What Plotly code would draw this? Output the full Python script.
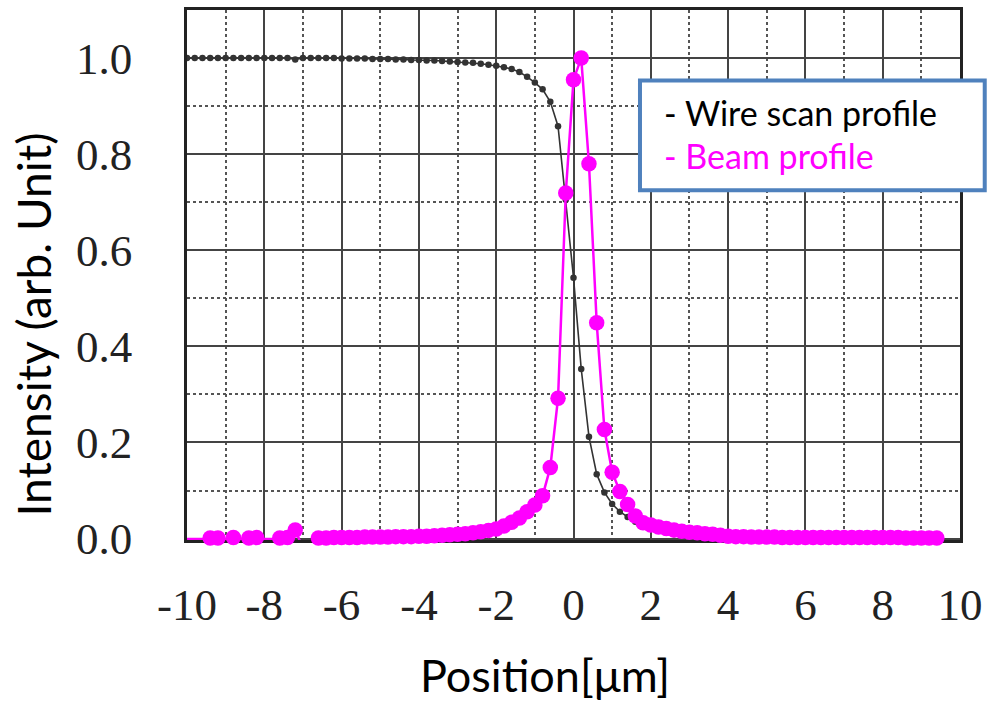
import plotly.graph_objects as go

# Scan positions (µm)
position_um = [
    -10.0, -9.8, -9.6, -9.4, -9.2, -9.0, -8.8, -8.6, -8.4, -8.2,
    -8.0, -7.8, -7.6, -7.4, -7.2, -7.0, -6.8, -6.6, -6.4, -6.2,
    -6.0, -5.8, -5.6, -5.4, -5.2, -5.0, -4.8, -4.6, -4.4, -4.2,
    -4.0, -3.8, -3.6, -3.4, -3.2, -3.0, -2.8, -2.6, -2.4, -2.2,
    -2.0, -1.8, -1.6, -1.4, -1.2, -1.0, -0.8, -0.6, -0.4, -0.2,
    0.0, 0.2, 0.4, 0.6, 0.8, 1.0, 1.2, 1.4, 1.6, 1.8,
    2.0, 2.2, 2.4, 2.6, 2.8, 3.0, 3.2, 3.4, 3.6, 3.8,
    4.0, 4.2, 4.4, 4.6, 4.8, 5.0, 5.2, 5.4, 5.6, 5.8,
    6.0, 6.2, 6.4, 6.6, 6.8, 7.0, 7.2, 7.4, 7.6, 7.8,
    8.0, 8.2, 8.4, 8.6, 8.8, 9.0, 9.2, 9.4,
]

# Normalised wire-scan signal
wire_scan = [
    1.000, 1.000, 1.000, 1.000, 1.000, 1.000, 1.000, 1.000, 1.000, 1.000,
    1.000, 1.000, 1.000, 1.000, 0.997, 1.000, 1.000, 1.000, 1.000, 1.000,
    0.999, 0.999, 0.999, 0.999, 0.998, 0.998, 0.998, 0.997, 0.997, 0.996,
    0.996, 0.995, 0.995, 0.994, 0.993, 0.992, 0.991, 0.990, 0.988, 0.986,
    0.984, 0.981, 0.977, 0.971, 0.961, 0.949, 0.935, 0.909, 0.858, 0.705,
    0.543, 0.353, 0.212, 0.134, 0.096, 0.072, 0.056, 0.045, 0.035, 0.027,
    0.021, 0.016, 0.012, 0.009, 0.007, 0.005, 0.004, 0.003, 0.002, 0.002,
    0.002, 0.001, 0.001, 0.001, 0.001, 0.001, 0.001, 0.001, 0.001, 0.001,
    0.001, 0.001, 0.001, 0.001, 0.001, 0.001, 0.001, 0.001, 0.001, 0.001,
    0.001, 0.001, 0.001, 0.001, 0.001, 0.001, 0.001, 0.001,
]

# Normalised beam profile (derivative of the wire scan)
beam_profile = [
    -0.001, -0.001, -0.001, 0.001, 0.001, -0.001, 0.002, -0.001, 0.001, 0.002,
    -0.001, -0.001, 0.001, 0.002, 0.018, -0.020, -0.006, 0.001, 0.001, 0.002,
    0.002, 0.002, 0.002, 0.003, 0.003, 0.003, 0.003, 0.004, 0.004, 0.004,
    0.005, 0.005, 0.006, 0.007, 0.008, 0.009, 0.010, 0.012, 0.014, 0.017,
    0.020, 0.026, 0.034, 0.043, 0.056, 0.070, 0.089, 0.148, 0.292, 0.719,
    0.955, 1.000, 0.780, 0.449, 0.227, 0.138, 0.098, 0.071, 0.047, 0.033,
    0.028, 0.024, 0.021, 0.018, 0.015, 0.013, 0.012, 0.010, 0.009, 0.007,
    0.005, 0.004, 0.004, 0.003, 0.003, 0.003, 0.003, 0.002, 0.002, 0.002,
    0.002, 0.002, 0.002, 0.002, 0.002, 0.002, 0.002, 0.002, 0.002, 0.002,
    0.002, 0.002, 0.002, 0.001, 0.001, 0.001, 0.001, 0.001,
]

x_ticks = [-10, -8, -6, -4, -2, 0, 2, 4, 6, 8, 10]
y_ticks = [0.0, 0.2, 0.4, 0.6, 0.8, 1.0]

legend_lines = ["- Wire scan profile", "- Beam profile"]

MAGENTA = "#ff00ff"
INK = "#333333"

# Markers are only drawn for readings inside the axis range
beam_mark_x = [x for x, y in zip(position_um, beam_profile) if y >= 0]
beam_mark_y = [y for y in beam_profile if y >= 0]

fig = go.Figure()

fig.add_trace(go.Scatter(
    x=position_um, y=wire_scan, mode="lines+markers",
    line=dict(color=INK, width=1.6),
    marker=dict(color=INK, size=6.5),
    showlegend=False, hoverinfo="skip",
))
fig.add_trace(go.Scatter(
    x=position_um, y=beam_profile, mode="lines",
    line=dict(color=MAGENTA, width=2.5),
    showlegend=False, hoverinfo="skip",
))
fig.add_trace(go.Scatter(
    x=beam_mark_x, y=beam_mark_y, mode="markers",
    marker=dict(color=MAGENTA, size=15.5),
    cliponaxis=False,
    showlegend=False, hoverinfo="skip",
))

tick_font = dict(family="Liberation Serif", size=45, color="#222222")
grid_major = "#444444"
grid_minor = "#555555"

fig.update_xaxes(
    range=[-10, 10], tickvals=x_ticks, ticktext=[str(v) for v in x_ticks],
    tickfont=tick_font, ticks="", ticklabelstandoff=23,
    showgrid=True, gridcolor=grid_major, gridwidth=2,
    minor=dict(dtick=1, tick0=0, showgrid=True, gridcolor=grid_minor,
               griddash="dot", gridwidth=1.6),
    showline=True, mirror=True, linecolor="#222222", linewidth=2.5,
    zeroline=False, layer="below traces",
)
fig.update_yaxes(
    range=[-0.003, 1.1], tickvals=y_ticks, ticktext=[f"{v:.1f}" for v in y_ticks],
    tickfont=tick_font, ticks="", ticklabelstandoff=43,
    showgrid=True, gridcolor=grid_major, gridwidth=2,
    minor=dict(dtick=0.1, tick0=0, showgrid=True, gridcolor=grid_minor,
               griddash="dot", gridwidth=1.6),
    showline=True, mirror=True, linecolor="#222222", linewidth=2.5,
    zeroline=False, layer="below traces",
)

fig.add_annotation(
    text="Position[μm]", xref="paper", yref="paper",
    x=0.463, y=-0.254, xanchor="center", yanchor="middle",
    showarrow=False, font=dict(family="Lato", size=45, color="#000000"),
)
fig.add_annotation(
    text="Intensity (arb. Unit)", xref="paper", yref="paper",
    x=-0.199, y=0.407, xanchor="center", yanchor="middle", textangle=-90,
    showarrow=False, font=dict(family="Lato", size=46, color="#000000"),
)

# Legend box
fig.add_shape(
    type="rect", xref="paper", yref="paper",
    x0=0.586, x1=1.032, y0=0.660, y1=0.867,
    line=dict(color="#4f81bd", width=4), fillcolor="white", layer="above",
)
fig.add_annotation(
    text=legend_lines[0], xref="paper", yref="paper",
    x=0.6145, y=0.806, xanchor="left", yanchor="middle",
    showarrow=False, font=dict(family="Lato", size=34, color="#000000"),
)
fig.add_annotation(
    text=legend_lines[1], xref="paper", yref="paper",
    x=0.6145, y=0.726, xanchor="left", yanchor="middle",
    showarrow=False, font=dict(family="Lato", size=34, color=MAGENTA),
)

fig.update_layout(
    width=998, height=701,
    margin=dict(l=187, r=38, t=7, b=161),
    paper_bgcolor="white", plot_bgcolor="white",
)

fig.write_html("out.html")
